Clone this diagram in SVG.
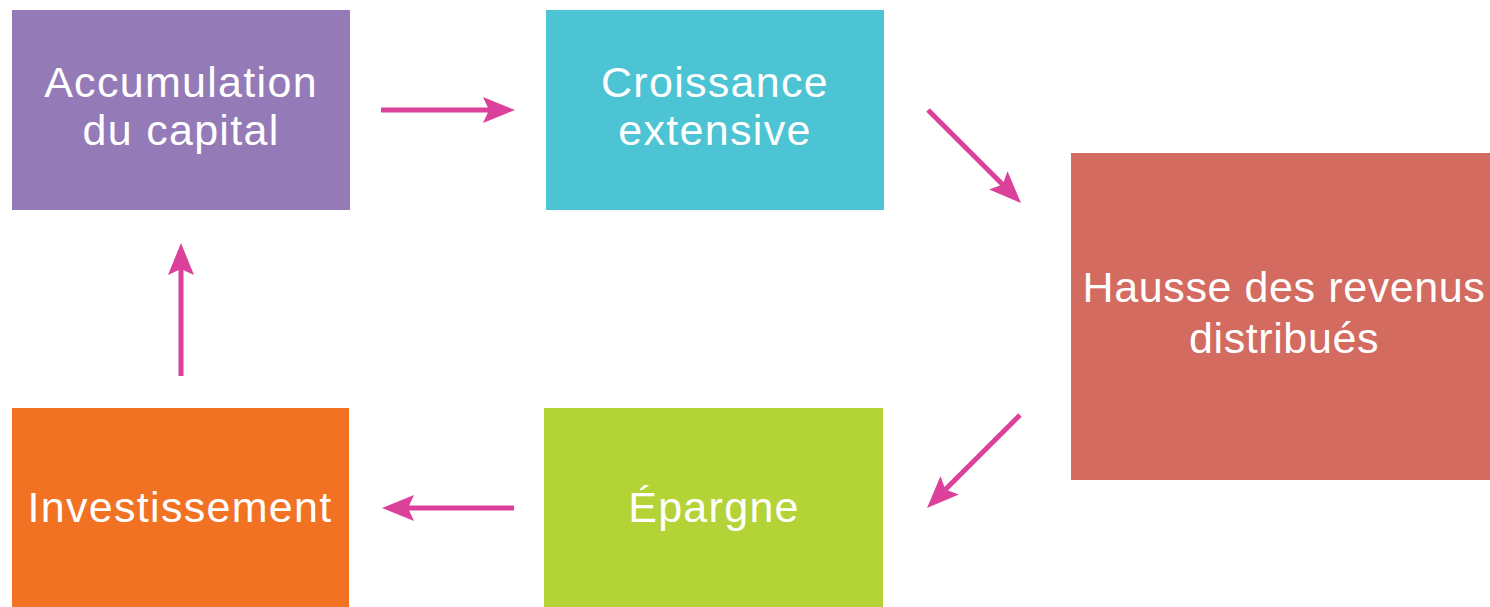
<svg xmlns="http://www.w3.org/2000/svg" width="1490" height="607" viewBox="0 0 1490 607">
<style>
.lbl{font-family:"Liberation Sans",Arial,sans-serif;font-size:43px;fill:#ffffff;text-anchor:middle;letter-spacing:1.3px}
.tight{letter-spacing:0.6px}
.conn{stroke:#db409b;stroke-width:5;fill:none;marker-end:url(#ah)}
</style>
<defs>
<marker id="ah" markerUnits="userSpaceOnUse" markerWidth="32" markerHeight="28" viewBox="0 0 32 28" refX="6" refY="14" orient="auto">
<path d="M0,1 L32,14 L0,27 L6,14 Z" fill="#db409b"/>
</marker>
</defs>
<rect width="1490" height="607" fill="#ffffff"/>
<g id="accumulation">
<rect x="12" y="10" width="338" height="200" fill="#947bb8"/>
<text class="lbl" x="181" y="97">Accumulation</text>
<text class="lbl" x="181" y="145">du capital</text>
</g>
<g id="croissance">
<rect x="546" y="10" width="338" height="200" fill="#4cc4d3"/>
<text class="lbl" x="715" y="97">Croissance</text>
<text class="lbl" x="715" y="145">extensive</text>
</g>
<g id="hausse">
<rect x="1071" y="153" width="419" height="327" fill="#d36b61"/>
<text class="lbl tight" x="1284" y="302">Hausse des revenus</text>
<text class="lbl tight" x="1284" y="353">distribués</text>
</g>
<g id="epargne">
<rect x="544" y="408" width="339" height="199" fill="#b3d337"/>
<text class="lbl" x="714" y="522">Épargne</text>
</g>
<g id="investissement">
<rect x="12" y="408" width="337" height="199" fill="#f27224"/>
<text class="lbl" x="180" y="522">Investissement</text>
</g>
<g id="connectors">
<line class="conn" x1="381" y1="110" x2="489" y2="110"/>
<line class="conn" x1="928" y1="110" x2="1002.6" y2="184.6"/>
<line class="conn" x1="1020" y1="415" x2="945.4" y2="489.6"/>
<line class="conn" x1="514" y1="508" x2="408" y2="508"/>
<line class="conn" x1="181" y1="376" x2="181" y2="269"/>
</g>
</svg>
